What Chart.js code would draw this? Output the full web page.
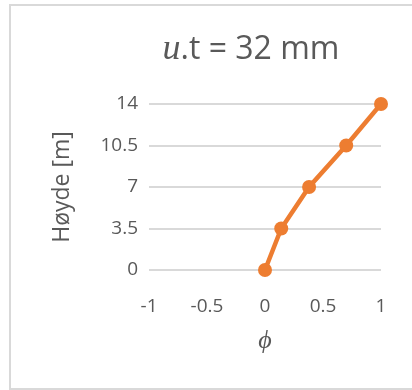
<!DOCTYPE html>
<html>
<head>
<meta charset="utf-8">
<script src="https://cdn.jsdelivr.net/npm/chart.js@4"></script>
<style>
  html, body { margin: 0; padding: 0; background: #fff; }
  #wrap { position: relative; width: 412px; height: 390px; overflow: hidden; }
  #frame { position: absolute; left: 9px; top: 4px; width: 420px; height: 382px; border: 2px solid #d9d9d9; }
  #title { position: absolute; left: 251px; top: 27px; transform: translateX(-50%); white-space: nowrap;
           font-family: 'Open Sans', sans-serif; font-size: 32px; line-height: 40px; color: #595959; }
  #title .u { font-family: 'Liberation Serif', serif; font-style: italic; font-size: 36px; }
  canvas { position: absolute; left: 0; top: 0; }
</style>
</head>
<body>
<div id="wrap">
  <div id="frame"></div>
  <canvas id="myChart" width="412" height="390"></canvas>
  <div id="title"><span class="u">u</span>.t = 32 mm</div>
</div>
<script>
  const phiValues = [0, 0.14, 0.38, 0.70, 1.0];
  const heights = [0, 3.5, 7, 10.5, 14];
  const xTicks = [-1, -0.5, 0, 0.5, 1];
  const yTicks = [0, 3.5, 7, 10.5, 14];

  const textColor = '#595959';
  const gridColor = '#d9d9d9';
  const orange = '#ED7D31';

  const points = phiValues.map((x, i) => ({ x: x, y: heights[i] }));

  const config = {
    type: 'scatter',
    data: {
      datasets: [{
        label: 'u.t = 32 mm',
        data: points,
        showLine: true,
        clip: false,
        borderColor: orange,
        backgroundColor: orange,
        borderWidth: 4.5,
        pointRadius: 7,
        pointBorderWidth: 0,
        pointBackgroundColor: orange
      }]
    },
    options: {
      responsive: false,
      animation: false,
      devicePixelRatio: 1,
      layout: {
        padding: { left: 10, right: 31, top: 104, bottom: 3 }
      },
      plugins: {
        legend: { display: false },
        title: { display: false },
        tooltip: { enabled: false }
      },
      scales: {
        x: {
          type: 'linear',
          min: -1,
          max: 1,
          afterBuildTicks: (scale) => { scale.ticks = xTicks.map(v => ({ value: v })); },
          afterFit: (scale) => { scale.height = 117; },
          ticks: {
            color: textColor,
            font: { family: 'Open Sans', size: 19 },
            padding: 17,
            maxRotation: 0,
            callback: (value) => String(value)
          },
          grid: { display: false },
          border: { display: false },
          title: {
            display: true,
            text: 'ϕ',
            color: textColor,
            font: { family: 'Liberation Serif', size: 26, style: 'italic' },
            padding: { top: 0, bottom: 30 }
          }
        },
        y: {
          min: 0,
          max: 14,
          afterBuildTicks: (scale) => { scale.ticks = yTicks.map(v => ({ value: v })); },
          afterFit: (scale) => { scale.width = 139; },
          ticks: {
            color: textColor,
            font: { family: 'Open Sans', size: 19 },
            padding: 11,
            callback: (value) => String(value)
          },
          grid: { color: gridColor, lineWidth: 2, drawTicks: false },
          border: { display: false },
          title: {
            display: true,
            text: 'Høyde [m]',
            color: textColor,
            font: { family: 'Open Sans', size: 23 },
            padding: { top: 39, bottom: 0 }
          }
        }
      }
    }
  };

  const myChart = new Chart(document.getElementById('myChart'), config);
</script>
</body>
</html>
